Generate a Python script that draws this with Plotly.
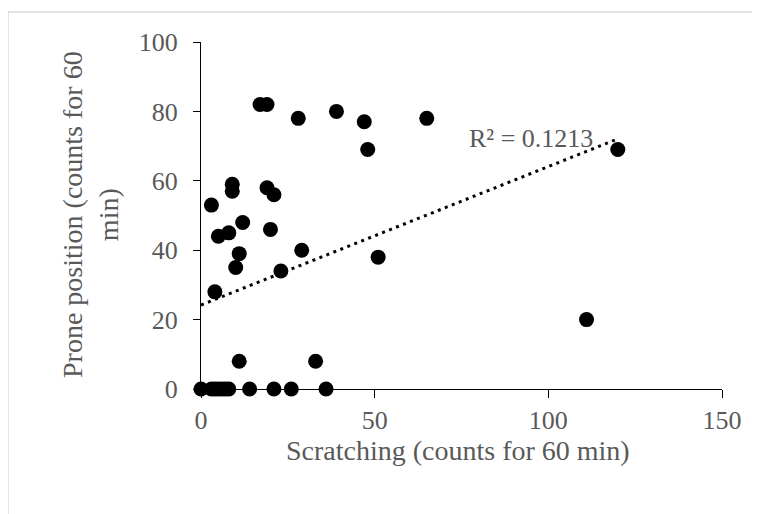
import plotly.graph_objects as go

# Data
scratching = [0, 3, 4, 5, 6, 7, 8, 14, 21, 26, 36,
              11, 33,
              4, 10, 11, 23, 29, 51,
              5, 8, 12, 20,
              3, 9, 9, 19, 21,
              48, 120, 28, 39, 47, 65, 17, 19,
              111]
prone = [0, 0, 0, 0, 0, 0, 0, 0, 0, 0, 0,
         8, 8,
         28, 35, 39, 34, 40, 38,
         44, 45, 48, 46,
         53, 59, 57, 58, 56,
         69, 69, 78, 80, 77, 78, 82, 82,
         20]

# Linear trend line as shown in the reference (Excel trendline)
trend_x = [0, 120]
trend_intercept = 24.2
trend_slope = 0.399
trend_y = [trend_intercept + trend_slope * v for v in trend_x]
r2_label = "R² = 0.1213"

x_ticks = [0, 50, 100, 150]
y_ticks = [0, 20, 40, 60, 80, 100]
x_title = "Scratching (counts for 60 min)"
y_title_lines = ["Prone position (counts for 60", "min)"]

# page body has an 8px margin; figure sized so it fits the window exactly
OFF = 8
W, H = 752, 506
L = 201 - OFF
T = 42 - OFF
R = W - (722 - OFF)
B = H - (389 - OFF)
pw, ph = W - L - R, H - T - B

def px(xs):
    return (xs - OFF - L) / pw

def py(ys):
    return (H - B - (ys - OFF)) / ph

FONT = "Liberation Serif, Times New Roman, serif"
GRAY = "#595959"

fig = go.Figure()
fig.add_trace(go.Scatter(
    x=trend_x, y=trend_y, mode="lines",
    line=dict(color="black", width=3, dash="3px,4.5px"),
    hoverinfo="skip", showlegend=False, cliponaxis=False))
fig.add_trace(go.Scatter(
    x=scratching, y=prone, mode="markers",
    marker=dict(color="black", size=15, line=dict(width=0)),
    showlegend=False, cliponaxis=False))

fig.update_layout(
    width=W, height=H,
    margin=dict(l=L, r=R, t=T, b=B, pad=0),
    paper_bgcolor="white", plot_bgcolor="white",
    font=dict(family=FONT, size=26, color=GRAY),
    xaxis=dict(range=[0, 150], tickvals=x_ticks, showgrid=False, zeroline=False,
               showline=True, linecolor="black", linewidth=1.3,
               ticks="outside", ticklen=8, tickwidth=1.3, tickcolor="black",
               layer="below traces", ticklabelstandoff=0,
               tickfont=dict(family=FONT, size=26, color=GRAY)),
    yaxis=dict(range=[0, 100], tickvals=y_ticks, showgrid=False, zeroline=False,
               showline=True, linecolor="black", linewidth=1.3,
               ticks="outside", ticklen=7, tickwidth=1.3, tickcolor="black",
               layer="below traces", ticklabelstandoff=10,
               tickfont=dict(family=FONT, size=26, color=GRAY)),
    annotations=[
        dict(x=94.9, y=72.2, xref="x", yref="y", text=r2_label, showarrow=False,
             xanchor="center", yanchor="middle",
             font=dict(family=FONT, size=26, color=GRAY)),
        dict(x=px(458), y=py(450), xref="paper", yref="paper", text=x_title,
             showarrow=False, xanchor="center", yanchor="middle",
             font=dict(family=FONT, size=28, color=GRAY)),
        dict(x=px(90), y=py(215), xref="paper", yref="paper",
             text="<br>".join(y_title_lines), textangle=-90, showarrow=False,
             xanchor="center", yanchor="middle",
             font=dict(family=FONT, size=28, color=GRAY)),
    ],
    shapes=[
        dict(type="rect", xref="paper", yref="paper",
             x0=px(8), x1=px(757), y0=py(530), y1=py(12),
             line=dict(color="#d9d9d9", width=1.5), layer="below"),
    ],
)

fig.write_html("out.html")
